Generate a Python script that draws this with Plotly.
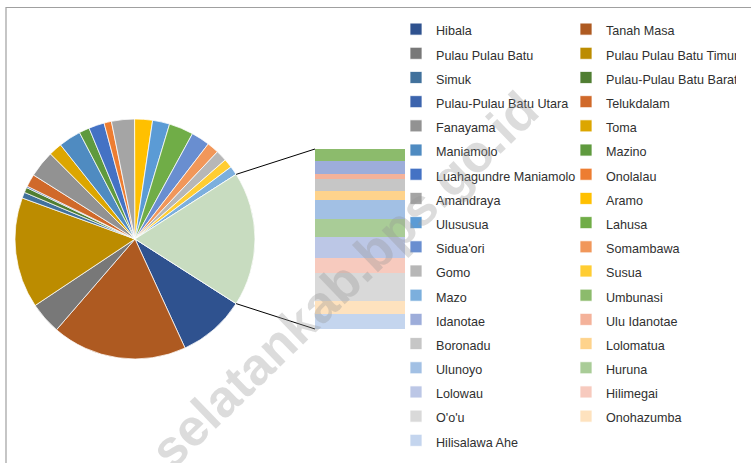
import math
import plotly.graph_objects as go

# ---------------- data ----------------
pie_labels = ["Hibala", "Tanah Masa", "Pulau Pulau Batu", "Pulau Pulau Batu Timur", "Simuk",
              "Pulau-Pulau Batu Barat", "Pulau-Pulau Batu Utara", "Telukdalam", "Fanayama", "Toma",
              "Maniamolo", "Mazino", "Luahagundre Maniamolo", "Onolalau", "Amandraya", "Aramo",
              "Ulususua", "Lahusa", "Sidua'ori", "Somambawa", "Gomo", "Susua", "Mazo"]
pie_values = [9.1, 18.2, 4.3, 14.9, 0.8, 0.7, 0.2, 1.7, 3.6, 1.8, 3.0, 1.4, 2.1, 1.0, 3.1, 2.4,
              2.3, 3.3, 2.5, 1.6, 1.5, 1.2, 1.2]
pie_colors = ["#2F528F", "#AE5A21", "#787878", "#BC8C00", "#41719C", "#507E32", "#3C64AD",
              "#D0692A", "#929292", "#DCA600", "#4F8BC1", "#5F9A3E", "#4472C4", "#ED7D31",
              "#A5A5A5", "#FFC000", "#5B9BD5", "#70AD47", "#698ED0", "#F1975A", "#B7B7B7",
              "#FFCD33", "#7CAFDD"]

bar_labels = ["Umbunasi", "Idanotae", "Ulu Idanotae", "Boronadu", "Lolomatua", "Ulunoyo",
              "Huruna", "Lolowau", "Hilimegai", "O'o'u", "Onohazumba", "Hilisalawa Ahe"]
bar_values = [1.24, 1.24, 0.53, 1.18, 0.91, 1.94, 1.84, 2.08, 1.51, 2.85, 1.24, 1.54]
bar_colors = ["#8CBB6C", "#9DADDA", "#F4B29A", "#C6C6C6", "#FED38C", "#A2C0E4", "#A9CC97",
              "#BCC7E6", "#F7CABE", "#D9D9D9", "#FEE2BE", "#C4D5EE"]
other_color = "#C8DCC0"
watermark = "selatankab.bps.go.id"

# ---------------- layout geometry ----------------
W, H = 751, 463
ML, MR = 0, 341
PW = W - ML - MR


def px_x(x):
    return (x - ML) / PW


def px_y(y):
    return 1 - y / H


pie_cx, pie_cy, pie_r = 135, 239, 120
bar_l, bar_r, bar_t, bar_b = 315, 405, 149, 329

main_sum = sum(pie_values)
other_sum = sum(bar_values)
total = main_sum + other_sum
other_deg = 360 * other_sum / total
rot_main = 90 + other_deg / 2
rot_other = 90 - other_deg / 2

span = '<span style="font-size:12.6px">{}</span>'
all_labels = [span.format(s) for s in pie_labels + bar_labels]

fig = go.Figure()

# pie carrying all categories (the "other" slices are covered by the overlay below)
fig.add_trace(go.Pie(
    labels=all_labels, values=pie_values + bar_values, sort=False, direction="clockwise",
    rotation=rot_main, textinfo="none",
    marker=dict(colors=pie_colors + bar_colors, line=dict(color="white", width=0.75)),
    domain=dict(x=[px_x(pie_cx - pie_r), px_x(pie_cx + pie_r)],
                y=[px_y(pie_cy + pie_r), px_y(pie_cy - pie_r)]),
    showlegend=True, hoverinfo="label+value",
))
# overlay: combined "other" slice
fig.add_trace(go.Pie(
    labels=["Other", "rest"], values=[other_sum, main_sum], sort=False, direction="clockwise",
    rotation=rot_other, textinfo="none",
    marker=dict(colors=[other_color, "rgba(0,0,0,0)"],
                line=dict(color=["white", "rgba(0,0,0,0)"], width=[0.75, 0])),
    domain=dict(x=[px_x(pie_cx - pie_r), px_x(pie_cx + pie_r)],
                y=[px_y(pie_cy + pie_r), px_y(pie_cy - pie_r)]),
    showlegend=False, hoverinfo="skip",
))

# stacked bar of the "other" categories (first label on top)
for lab, val, col in reversed(list(zip(bar_labels, bar_values, bar_colors))):
    fig.add_trace(go.Bar(x=[0], y=[val], width=1, name=lab, marker=dict(color=col, line=dict(width=0)),
                         showlegend=False, hovertemplate=lab + ": %{y}<extra></extra>"))

# connector lines between the pie's "other" slice and the bar
shapes = []
for ang, by in ((rot_other, bar_t), (rot_main, bar_b)):
    a = math.radians(ang)
    sx = pie_cx + pie_r * math.sin(a)
    sy = pie_cy - pie_r * math.cos(a)
    shapes.append(dict(type="line", xref="paper", yref="paper",
                       x0=px_x(sx), y0=px_y(sy), x1=px_x(bar_l), y1=px_y(by),
                       line=dict(color="black", width=1)))
# chart frame
shapes.append(dict(type="rect", xref="paper", yref="paper", layer="below",
                   x0=px_x(6), x1=px_x(900), y0=px_y(600), y1=px_y(7.5),
                   line=dict(color="#A0A0A0", width=1.2), fillcolor="rgba(0,0,0,0)"))

fig.update_layout(
    width=W, height=H,
    margin=dict(l=ML, r=MR, t=0, b=0, autoexpand=False),
    paper_bgcolor="white", plot_bgcolor="rgba(0,0,0,0)",
    barmode="stack", bargap=0,
    xaxis=dict(domain=[px_x(bar_l), px_x(bar_r)], range=[-0.5, 0.5], visible=False, fixedrange=True),
    yaxis=dict(domain=[px_y(bar_b), px_y(bar_t)], range=[0, other_sum], visible=False, fixedrange=True),
    legend=dict(orientation="h", x=px_x(396), xanchor="left", y=px_y(12), yanchor="top",
                entrywidth=125, entrywidthmode="pixels", traceorder="normal", maxheight=460,
                font=dict(family="Liberation Sans, Arial, sans-serif", size=16.3, color="#303030"),
                bgcolor="rgba(0,0,0,0)", borderwidth=0),
    shapes=shapes,
    annotations=[dict(text="<b>" + watermark + "</b>", xref="paper", yref="paper",
                      x=px_x(344), y=px_y(280),
                      xanchor="center", yanchor="middle", showarrow=False, textangle=-44,
                      font=dict(family="Liberation Sans, Arial, sans-serif", size=52,
                                color="rgba(150,150,150,0.33)"))],
)

fig.write_html("out.html", config={"displayModeBar": False},
               post_script="document.body.style.margin='0px';")
